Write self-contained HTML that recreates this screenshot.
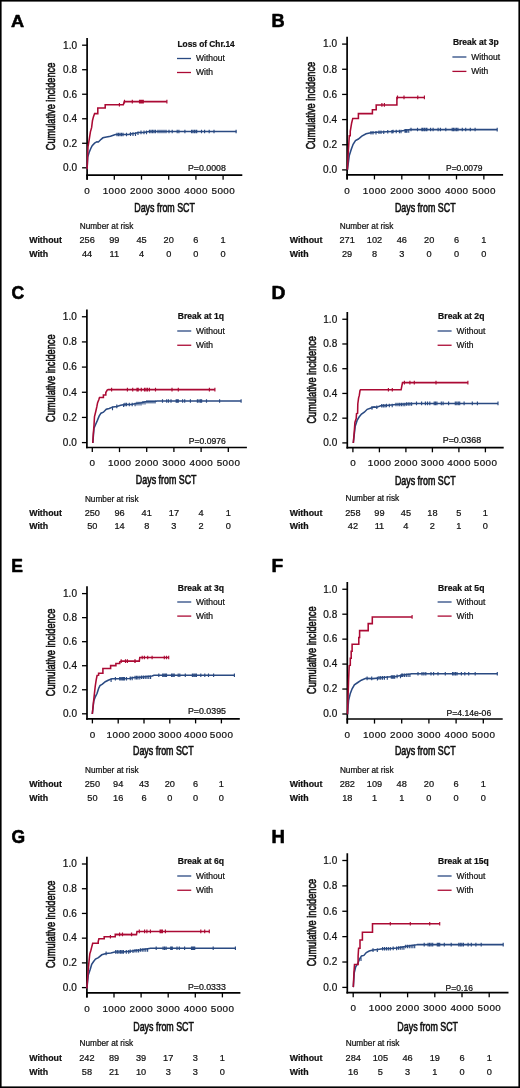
<!DOCTYPE html>
<html><head><meta charset="utf-8"><style>
html,body{margin:0;padding:0;background:#fff;}
svg{display:block;will-change:transform;}
text{font-family:"Liberation Sans", sans-serif;fill:#111;stroke:#111;stroke-width:0.22px;}
</style></head><body>
<svg width="520" height="1088" viewBox="0 0 520 1088">
<rect x="0" y="0" width="520" height="1088" fill="#fff"/>
<g><text transform="translate(11.05,27.3) scale(0.18185,0.17297)" font-size="100" font-weight="bold" style="fill:#000;stroke:#000;stroke-width:3.38px;stroke-linejoin:round">A</text><line x1="87.1" y1="37.9" x2="87.1" y2="179.7" stroke="#000" stroke-width="1.7"/><line x1="82.1" y1="167.8" x2="87.1" y2="167.8" stroke="#000" stroke-width="1.3"/><text x="77.2" y="171.1" font-size="10" letter-spacing="0.1" text-anchor="end">0.0</text><line x1="82.1" y1="143.28" x2="87.1" y2="143.28" stroke="#000" stroke-width="1.3"/><text x="77.2" y="146.58" font-size="10" letter-spacing="0.1" text-anchor="end">0.2</text><line x1="82.1" y1="118.76" x2="87.1" y2="118.76" stroke="#000" stroke-width="1.3"/><text x="77.2" y="122.06" font-size="10" letter-spacing="0.1" text-anchor="end">0.4</text><line x1="82.1" y1="94.24" x2="87.1" y2="94.24" stroke="#000" stroke-width="1.3"/><text x="77.2" y="97.54" font-size="10" letter-spacing="0.1" text-anchor="end">0.6</text><line x1="82.1" y1="69.72" x2="87.1" y2="69.72" stroke="#000" stroke-width="1.3"/><text x="77.2" y="73.02" font-size="10" letter-spacing="0.1" text-anchor="end">0.8</text><line x1="82.1" y1="45.2" x2="87.1" y2="45.2" stroke="#000" stroke-width="1.3"/><text x="77.2" y="48.5" font-size="10" letter-spacing="0.1" text-anchor="end">1.0</text><line x1="86.25" y1="175.1" x2="242.3" y2="175.1" stroke="#000" stroke-width="1.7"/><line x1="87.1" y1="175.1" x2="87.1" y2="179.7" stroke="#000" stroke-width="1.3"/><text x="87.3" y="193.8" font-size="9.9" letter-spacing="0.4" text-anchor="middle">0</text><line x1="114.3" y1="175.1" x2="114.3" y2="179.7" stroke="#000" stroke-width="1.3"/><text x="114.5" y="193.8" font-size="9.9" letter-spacing="0.4" text-anchor="middle">1000</text><line x1="141.5" y1="175.1" x2="141.5" y2="179.7" stroke="#000" stroke-width="1.3"/><text x="141.7" y="193.8" font-size="9.9" letter-spacing="0.4" text-anchor="middle">2000</text><line x1="168.7" y1="175.1" x2="168.7" y2="179.7" stroke="#000" stroke-width="1.3"/><text x="168.9" y="193.8" font-size="9.9" letter-spacing="0.4" text-anchor="middle">3000</text><line x1="195.9" y1="175.1" x2="195.9" y2="179.7" stroke="#000" stroke-width="1.3"/><text x="196.1" y="193.8" font-size="9.9" letter-spacing="0.4" text-anchor="middle">4000</text><line x1="223.1" y1="175.1" x2="223.1" y2="179.7" stroke="#000" stroke-width="1.3"/><text x="223.3" y="193.8" font-size="9.9" letter-spacing="0.4" text-anchor="middle">5000</text><text x="164.6" y="212" font-size="12" text-anchor="middle" textLength="60.7" lengthAdjust="spacingAndGlyphs" style="stroke-width:0.6px">Days from SCT</text><text transform="translate(54.7,106.5) rotate(-90)" x="0" y="0" font-size="12" text-anchor="middle" textLength="87.5" lengthAdjust="spacingAndGlyphs" style="stroke-width:0.6px">Cumulative incidence</text><text x="177.5" y="47" font-size="8.6" font-weight="bold" textLength="57.2" lengthAdjust="spacingAndGlyphs">Loss of Chr.14</text><line x1="177" y1="58.5" x2="191" y2="58.5" stroke="#2a4a82" stroke-width="1.3"/><text x="196" y="61.1" font-size="8.5">Without</text><line x1="177" y1="72.5" x2="191" y2="72.5" stroke="#ab0a34" stroke-width="1.3"/><text x="196" y="75.1" font-size="8.5">With</text><text x="225.8" y="170.6" font-size="8.2" text-anchor="end" textLength="37.8" lengthAdjust="spacingAndGlyphs">P=0.0008</text><text x="79.7" y="228.9" font-size="8.25">Number at risk</text><text x="29.2" y="242.7" font-size="8.8" font-weight="bold">Without</text><text x="29.2" y="257" font-size="8.8" font-weight="bold">With</text><text x="87.1" y="242.7" font-size="9.2" text-anchor="middle">256</text><text x="114.3" y="242.7" font-size="9.2" text-anchor="middle">99</text><text x="141.5" y="242.7" font-size="9.2" text-anchor="middle">45</text><text x="168.7" y="242.7" font-size="9.2" text-anchor="middle">20</text><text x="195.9" y="242.7" font-size="9.2" text-anchor="middle">6</text><text x="223.1" y="242.7" font-size="9.2" text-anchor="middle">1</text><text x="87.1" y="257" font-size="9.2" text-anchor="middle">44</text><text x="114.3" y="257" font-size="9.2" text-anchor="middle">11</text><text x="141.5" y="257" font-size="9.2" text-anchor="middle">4</text><text x="168.7" y="257" font-size="9.2" text-anchor="middle">0</text><text x="195.9" y="257" font-size="9.2" text-anchor="middle">0</text><text x="223.1" y="257" font-size="9.2" text-anchor="middle">0</text><path d="M87.1 169.3 L87.7 156.9 L89.2 152.2 L91 148 L92.2 145.6 L94.6 143.2 L96.9 141.7 L98.4 142 L101.1 139.3 L102.9 137.8 L105.2 137.2 L110.5 136.3 L115.4 134.5 L128.8 134.5 L130.2 134.1 L135.6 133.2 L138.3 132.4 L143.6 132.4 L149 131.5 L236.4 131.5" fill="none" stroke="#2a4a82" stroke-width="1.55" stroke-linejoin="miter"/><path d="M117 132.7v3.6 M118.5 132.7v3.6 M120 132.7v3.6 M121.5 132.7v3.6 M123 132.7v3.6 M126.5 132.7v3.6 M130.5 132.3v3.6 M133 132.3v3.6 M135.5 132.3v3.6 M138 131.4v3.6 M141 130.6v3.6 M144 130.6v3.6 M146.5 130.6v3.6 M149.5 129.7v3.6 M151 129.7v3.6 M152.5 129.7v3.6 M154 129.7v3.6 M155.5 129.7v3.6 M158 129.7v3.6 M160 129.7v3.6 M162 129.7v3.6 M164 129.7v3.6 M166 129.7v3.6 M169 129.7v3.6 M172.2 129.7v3.6 M177.2 129.7v3.6 M178.9 129.7v3.6 M184.9 129.7v3.6 M191.6 129.7v3.6 M193 129.7v3.6 M194.5 129.7v3.6 M196 129.7v3.6 M196.7 129.7v3.6 M201.5 129.7v3.6 M204.6 129.7v3.6 M209.2 129.7v3.6 M214 129.7v3.6 M236.1 129.7v3.6" stroke="#2a4a82" stroke-width="1.15"/><path d="M87.1 169.3 L88 146.8 L89.2 139.6 L90.4 131.9 L91.6 127.7 L92.5 120.5 L93.4 116.9 L94.6 113.6 L97.8 113.6 L97.8 107.9 L105.2 107.9 L105.2 104.8 L123.3 104.8 L124.3 101.6 L166.9 101.6" fill="none" stroke="#ab0a34" stroke-width="1.55" stroke-linejoin="miter"/><path d="M119.4 103v3.6 M124.5 99.8v3.6 M132.3 99.8v3.6 M139.5 99.8v3.6 M140.5 99.8v3.6 M141.5 99.8v3.6 M142.5 99.8v3.6 M143.3 99.8v3.6 M166.9 99.8v3.6" stroke="#ab0a34" stroke-width="1.15"/></g>
<g><text transform="translate(271.58,26.7) scale(0.18200,0.18023)" font-size="100" font-weight="bold" style="fill:#000;stroke:#000;stroke-width:3.31px;stroke-linejoin:round">B</text><line x1="347.1" y1="36.7" x2="347.1" y2="179.4" stroke="#000" stroke-width="1.7"/><line x1="342.1" y1="169.9" x2="347.1" y2="169.9" stroke="#000" stroke-width="1.3"/><text x="337.2" y="173.2" font-size="10" letter-spacing="0.1" text-anchor="end">0.0</text><line x1="342.1" y1="144.74" x2="347.1" y2="144.74" stroke="#000" stroke-width="1.3"/><text x="337.2" y="148.04" font-size="10" letter-spacing="0.1" text-anchor="end">0.2</text><line x1="342.1" y1="119.58" x2="347.1" y2="119.58" stroke="#000" stroke-width="1.3"/><text x="337.2" y="122.88" font-size="10" letter-spacing="0.1" text-anchor="end">0.4</text><line x1="342.1" y1="94.42" x2="347.1" y2="94.42" stroke="#000" stroke-width="1.3"/><text x="337.2" y="97.72" font-size="10" letter-spacing="0.1" text-anchor="end">0.6</text><line x1="342.1" y1="69.26" x2="347.1" y2="69.26" stroke="#000" stroke-width="1.3"/><text x="337.2" y="72.56" font-size="10" letter-spacing="0.1" text-anchor="end">0.8</text><line x1="342.1" y1="44.1" x2="347.1" y2="44.1" stroke="#000" stroke-width="1.3"/><text x="337.2" y="47.4" font-size="10" letter-spacing="0.1" text-anchor="end">1.0</text><line x1="346.25" y1="174.8" x2="503.1" y2="174.8" stroke="#000" stroke-width="1.7"/><line x1="347.1" y1="174.8" x2="347.1" y2="179.4" stroke="#000" stroke-width="1.3"/><text x="347.3" y="193.5" font-size="9.9" letter-spacing="0.4" text-anchor="middle">0</text><line x1="374.45" y1="174.8" x2="374.45" y2="179.4" stroke="#000" stroke-width="1.3"/><text x="374.65" y="193.5" font-size="9.9" letter-spacing="0.4" text-anchor="middle">1000</text><line x1="401.8" y1="174.8" x2="401.8" y2="179.4" stroke="#000" stroke-width="1.3"/><text x="402" y="193.5" font-size="9.9" letter-spacing="0.4" text-anchor="middle">2000</text><line x1="429.15" y1="174.8" x2="429.15" y2="179.4" stroke="#000" stroke-width="1.3"/><text x="429.35" y="193.5" font-size="9.9" letter-spacing="0.4" text-anchor="middle">3000</text><line x1="456.5" y1="174.8" x2="456.5" y2="179.4" stroke="#000" stroke-width="1.3"/><text x="456.7" y="193.5" font-size="9.9" letter-spacing="0.4" text-anchor="middle">4000</text><line x1="483.85" y1="174.8" x2="483.85" y2="179.4" stroke="#000" stroke-width="1.3"/><text x="484.05" y="193.5" font-size="9.9" letter-spacing="0.4" text-anchor="middle">5000</text><text x="425.25" y="212.3" font-size="12" text-anchor="middle" textLength="60.7" lengthAdjust="spacingAndGlyphs" style="stroke-width:0.6px">Days from SCT</text><text transform="translate(314.7,105.6) rotate(-90)" x="0" y="0" font-size="12" text-anchor="middle" textLength="87.5" lengthAdjust="spacingAndGlyphs" style="stroke-width:0.6px">Cumulative incidence</text><text x="452.9" y="45.4" font-size="8.6" font-weight="bold" textLength="45.9" lengthAdjust="spacingAndGlyphs">Break at 3p</text><line x1="452.4" y1="57" x2="466.4" y2="57" stroke="#2a4a82" stroke-width="1.3"/><text x="471.25" y="59.6" font-size="8.5">Without</text><line x1="452.4" y1="71.4" x2="466.4" y2="71.4" stroke="#ab0a34" stroke-width="1.3"/><text x="471.25" y="74" font-size="8.5">With</text><text x="482.5" y="171" font-size="8.2" text-anchor="end" textLength="36.5" lengthAdjust="spacingAndGlyphs">P=0.0079</text><text x="339.7" y="228.9" font-size="8.25">Number at risk</text><text x="289.7" y="242.7" font-size="8.8" font-weight="bold">Without</text><text x="289.7" y="257" font-size="8.8" font-weight="bold">With</text><text x="347.1" y="242.7" font-size="9.2" text-anchor="middle">271</text><text x="374.45" y="242.7" font-size="9.2" text-anchor="middle">102</text><text x="401.8" y="242.7" font-size="9.2" text-anchor="middle">46</text><text x="429.15" y="242.7" font-size="9.2" text-anchor="middle">20</text><text x="456.5" y="242.7" font-size="9.2" text-anchor="middle">6</text><text x="483.85" y="242.7" font-size="9.2" text-anchor="middle">1</text><text x="347.1" y="257" font-size="9.2" text-anchor="middle">29</text><text x="374.45" y="257" font-size="9.2" text-anchor="middle">8</text><text x="401.8" y="257" font-size="9.2" text-anchor="middle">3</text><text x="429.15" y="257" font-size="9.2" text-anchor="middle">0</text><text x="456.5" y="257" font-size="9.2" text-anchor="middle">0</text><text x="483.85" y="257" font-size="9.2" text-anchor="middle">0</text><path d="M347.4 169.8 L349.3 155.4 L351.2 149.6 L353.1 144.3 L355.5 140.5 L358.4 139 L361.8 136.2 L366.1 133.75 L370.9 132.8 L376.7 132.3 L386.3 131.8 L392.5 131.5 L401.25 130.9 L410 129.5 L497.2 129.6" fill="none" stroke="#2a4a82" stroke-width="1.55" stroke-linejoin="miter"/><path d="M371 131v3.6 M373 131v3.6 M376 131v3.6 M379 130.5v3.6 M381 130.5v3.6 M383.75 130.5v3.6 M387.75 130v3.6 M391.9 130v3.6 M393.1 129.7v3.6 M396.25 129.7v3.6 M399.4 129.7v3.6 M401 129.7v3.6 M405 129.1v3.6 M406 129.1v3.6 M407 129.1v3.6 M408.75 129.1v3.6 M411 127.7v3.6 M417.5 127.7v3.6 M421.9 127.7v3.6 M423 127.7v3.6 M424.5 127.7v3.6 M426 127.7v3.6 M426.9 127.7v3.6 M430.6 127.7v3.6 M433.1 127.7v3.6 M438.1 127.7v3.6 M440.4 127.7v3.6 M445.8 127.7v3.6 M452.2 127.7v3.6 M453.5 127.7v3.6 M455 127.7v3.6 M456.5 127.7v3.6 M457.9 127.7v3.6 M462.3 127.7v3.6 M465.7 127.7v3.6 M470.3 127.7v3.6 M475.1 127.7v3.6 M497.2 127.8v3.6" stroke="#2a4a82" stroke-width="1.15"/><path d="M347.4 169.8 L348.3 151.5 L349.3 135.7 L350.25 135.7 L350.25 131.3 L351.7 122.7 L352.8 118.4 L358.4 118.4 L358.4 113.6 L372.4 113.6 L372.4 109.7 L376.2 109.7 L376.2 104.9 L396.9 104.9 L396.9 97.4 L424.4 97.4" fill="none" stroke="#ab0a34" stroke-width="1.55" stroke-linejoin="miter"/><path d="M381.9 103.1v3.6 M384.4 103.1v3.6 M397.5 95.6v3.6 M404 95.6v3.6 M417.75 95.6v3.6 M424.4 95.6v3.6" stroke="#ab0a34" stroke-width="1.15"/></g>
<g><text transform="translate(11.38,299.12) scale(0.17589,0.18362)" font-size="100" font-weight="bold" style="fill:#000;stroke:#000;stroke-width:3.34px;stroke-linejoin:round">C</text><line x1="86.9" y1="309.5" x2="86.9" y2="448.35" stroke="#000" stroke-width="1.7"/><line x1="81.9" y1="442.6" x2="86.9" y2="442.6" stroke="#000" stroke-width="1.3"/><text x="77" y="445.9" font-size="10" letter-spacing="0.1" text-anchor="end">0.0</text><line x1="81.9" y1="417.43" x2="86.9" y2="417.43" stroke="#000" stroke-width="1.3"/><text x="77" y="420.73" font-size="10" letter-spacing="0.1" text-anchor="end">0.2</text><line x1="81.9" y1="392.26" x2="86.9" y2="392.26" stroke="#000" stroke-width="1.3"/><text x="77" y="395.56" font-size="10" letter-spacing="0.1" text-anchor="end">0.4</text><line x1="81.9" y1="367.09" x2="86.9" y2="367.09" stroke="#000" stroke-width="1.3"/><text x="77" y="370.39" font-size="10" letter-spacing="0.1" text-anchor="end">0.6</text><line x1="81.9" y1="341.92" x2="86.9" y2="341.92" stroke="#000" stroke-width="1.3"/><text x="77" y="345.22" font-size="10" letter-spacing="0.1" text-anchor="end">0.8</text><line x1="81.9" y1="316.75" x2="86.9" y2="316.75" stroke="#000" stroke-width="1.3"/><text x="77" y="320.05" font-size="10" letter-spacing="0.1" text-anchor="end">1.0</text><line x1="86.05" y1="447.5" x2="246.9" y2="447.5" stroke="#000" stroke-width="1.7"/><line x1="92.3" y1="447.5" x2="92.3" y2="452.1" stroke="#000" stroke-width="1.3"/><text x="92.5" y="466.2" font-size="9.9" letter-spacing="0.4" text-anchor="middle">0</text><line x1="119.5" y1="447.5" x2="119.5" y2="452.1" stroke="#000" stroke-width="1.3"/><text x="119.7" y="466.2" font-size="9.9" letter-spacing="0.4" text-anchor="middle">1000</text><line x1="146.7" y1="447.5" x2="146.7" y2="452.1" stroke="#000" stroke-width="1.3"/><text x="146.9" y="466.2" font-size="9.9" letter-spacing="0.4" text-anchor="middle">2000</text><line x1="173.9" y1="447.5" x2="173.9" y2="452.1" stroke="#000" stroke-width="1.3"/><text x="174.1" y="466.2" font-size="9.9" letter-spacing="0.4" text-anchor="middle">3000</text><line x1="201.1" y1="447.5" x2="201.1" y2="452.1" stroke="#000" stroke-width="1.3"/><text x="201.3" y="466.2" font-size="9.9" letter-spacing="0.4" text-anchor="middle">4000</text><line x1="228.3" y1="447.5" x2="228.3" y2="452.1" stroke="#000" stroke-width="1.3"/><text x="228.5" y="466.2" font-size="9.9" letter-spacing="0.4" text-anchor="middle">5000</text><text x="166.2" y="484.4" font-size="12" text-anchor="middle" textLength="60.7" lengthAdjust="spacingAndGlyphs" style="stroke-width:0.6px">Days from SCT</text><text transform="translate(55.3,378.2) rotate(-90)" x="0" y="0" font-size="12" text-anchor="middle" textLength="87.5" lengthAdjust="spacingAndGlyphs" style="stroke-width:0.6px">Cumulative incidence</text><text x="177.75" y="318.75" font-size="8.6" font-weight="bold" textLength="46.25" lengthAdjust="spacingAndGlyphs">Break at 1q</text><line x1="177.25" y1="331" x2="191.25" y2="331" stroke="#2a4a82" stroke-width="1.3"/><text x="196" y="333.6" font-size="8.5">Without</text><line x1="177.25" y1="345.25" x2="191.25" y2="345.25" stroke="#ab0a34" stroke-width="1.3"/><text x="196" y="347.85" font-size="8.5">With</text><text x="225.8" y="444.4" font-size="8.2" text-anchor="end" textLength="37" lengthAdjust="spacingAndGlyphs">P=0.0976</text><text x="84.9" y="501.6" font-size="8.25">Number at risk</text><text x="29.2" y="515.5" font-size="8.8" font-weight="bold">Without</text><text x="29.2" y="529.3" font-size="8.8" font-weight="bold">With</text><text x="92.3" y="515.5" font-size="9.2" text-anchor="middle">250</text><text x="119.5" y="515.5" font-size="9.2" text-anchor="middle">96</text><text x="146.7" y="515.5" font-size="9.2" text-anchor="middle">41</text><text x="173.9" y="515.5" font-size="9.2" text-anchor="middle">17</text><text x="201.1" y="515.5" font-size="9.2" text-anchor="middle">4</text><text x="228.3" y="515.5" font-size="9.2" text-anchor="middle">1</text><text x="92.3" y="529.3" font-size="9.2" text-anchor="middle">50</text><text x="119.5" y="529.3" font-size="9.2" text-anchor="middle">14</text><text x="146.7" y="529.3" font-size="9.2" text-anchor="middle">8</text><text x="173.9" y="529.3" font-size="9.2" text-anchor="middle">3</text><text x="201.1" y="529.3" font-size="9.2" text-anchor="middle">2</text><text x="228.3" y="529.3" font-size="9.2" text-anchor="middle">0</text><path d="M92.8 443 L94 428.1 L95.7 424.2 L97.4 420.4 L99.1 416.1 L101 413.2 L103.4 412.2 L106.3 409.3 L109.2 408.4 L113 406.9 L116.8 406.4 L120.7 405.2 L124.5 404.5 L131.3 404.5 L136.1 403.6 L141.5 402.8 L145.4 401.8 L155.4 401.4 L156.9 401 L241.1 401" fill="none" stroke="#2a4a82" stroke-width="1.55" stroke-linejoin="miter"/><path d="M112.5 406.6v3.6 M116.8 404.6v3.6 M123.6 403.4v3.6 M125 402.7v3.6 M126.5 402.7v3.6 M129.3 402.7v3.6 M132.2 402.7v3.6 M135.1 402.7v3.6 M137 401.8v3.6 M139 401.8v3.6 M141 401.8v3.6 M143 401v3.6 M145 401v3.6 M147 400v3.6 M149 400v3.6 M151 400v3.6 M153 400v3.6 M155 400v3.6 M162.5 399.2v3.6 M166.7 399.2v3.6 M168.5 399.2v3.6 M171 399.2v3.6 M176.2 399.2v3.6 M177.3 399.2v3.6 M178.3 399.2v3.6 M182.6 399.2v3.6 M184.7 399.2v3.6 M190.4 399.2v3.6 M197.4 399.2v3.6 M199 399.2v3.6 M200.5 399.2v3.6 M201.6 399.2v3.6 M206.5 399.2v3.6 M219.6 399.2v3.6 M241.1 399.2v3.6" stroke="#2a4a82" stroke-width="1.15"/><path d="M92.8 443 L93.3 433.8 L94 425.2 L94.5 416.5 L95.7 411.7 L96.8 406.9 L97.6 402.6 L98.8 399.7 L99.5 397.5 L103.4 397.5 L103.4 394.9 L105.8 394.9 L105.8 392.5 L107.2 390.1 L108.2 389.6 L214.9 389.6" fill="none" stroke="#ab0a34" stroke-width="1.55" stroke-linejoin="miter"/><path d="M111.6 387.8v3.6 M127.4 387.8v3.6 M132.7 387.8v3.6 M137 387.8v3.6 M138.2 387.8v3.6 M141.3 387.8v3.6 M144.5 387.8v3.6 M146 387.8v3.6 M147.5 387.8v3.6 M149.4 387.8v3.6 M155.5 387.8v3.6 M172 387.8v3.6 M178.3 387.8v3.6 M209.4 387.8v3.6 M214.9 387.8v3.6" stroke="#ab0a34" stroke-width="1.15"/></g>
<g><text transform="translate(271.51,299) scale(0.19240,0.18459)" font-size="100" font-weight="bold" style="fill:#000;stroke:#000;stroke-width:3.18px;stroke-linejoin:round">D</text><line x1="347.3" y1="312" x2="347.3" y2="448.55" stroke="#000" stroke-width="1.7"/><line x1="342.3" y1="442.9" x2="347.3" y2="442.9" stroke="#000" stroke-width="1.3"/><text x="337.4" y="446.2" font-size="10" letter-spacing="0.1" text-anchor="end">0.0</text><line x1="342.3" y1="418.17" x2="347.3" y2="418.17" stroke="#000" stroke-width="1.3"/><text x="337.4" y="421.47" font-size="10" letter-spacing="0.1" text-anchor="end">0.2</text><line x1="342.3" y1="393.44" x2="347.3" y2="393.44" stroke="#000" stroke-width="1.3"/><text x="337.4" y="396.74" font-size="10" letter-spacing="0.1" text-anchor="end">0.4</text><line x1="342.3" y1="368.71" x2="347.3" y2="368.71" stroke="#000" stroke-width="1.3"/><text x="337.4" y="372.01" font-size="10" letter-spacing="0.1" text-anchor="end">0.6</text><line x1="342.3" y1="343.98" x2="347.3" y2="343.98" stroke="#000" stroke-width="1.3"/><text x="337.4" y="347.28" font-size="10" letter-spacing="0.1" text-anchor="end">0.8</text><line x1="342.3" y1="319.25" x2="347.3" y2="319.25" stroke="#000" stroke-width="1.3"/><text x="337.4" y="322.55" font-size="10" letter-spacing="0.1" text-anchor="end">1.0</text><line x1="346.45" y1="447.7" x2="503.7" y2="447.7" stroke="#000" stroke-width="1.7"/><line x1="352.9" y1="447.7" x2="352.9" y2="452.3" stroke="#000" stroke-width="1.3"/><text x="353.1" y="466.4" font-size="9.9" letter-spacing="0.4" text-anchor="middle">0</text><line x1="379.4" y1="447.7" x2="379.4" y2="452.3" stroke="#000" stroke-width="1.3"/><text x="379.6" y="466.4" font-size="9.9" letter-spacing="0.4" text-anchor="middle">1000</text><line x1="405.9" y1="447.7" x2="405.9" y2="452.3" stroke="#000" stroke-width="1.3"/><text x="406.1" y="466.4" font-size="9.9" letter-spacing="0.4" text-anchor="middle">2000</text><line x1="432.4" y1="447.7" x2="432.4" y2="452.3" stroke="#000" stroke-width="1.3"/><text x="432.6" y="466.4" font-size="9.9" letter-spacing="0.4" text-anchor="middle">3000</text><line x1="458.9" y1="447.7" x2="458.9" y2="452.3" stroke="#000" stroke-width="1.3"/><text x="459.1" y="466.4" font-size="9.9" letter-spacing="0.4" text-anchor="middle">4000</text><line x1="485.4" y1="447.7" x2="485.4" y2="452.3" stroke="#000" stroke-width="1.3"/><text x="485.6" y="466.4" font-size="9.9" letter-spacing="0.4" text-anchor="middle">5000</text><text x="425.25" y="484.8" font-size="12" text-anchor="middle" textLength="60.7" lengthAdjust="spacingAndGlyphs" style="stroke-width:0.6px">Days from SCT</text><text transform="translate(315.5,379.8) rotate(-90)" x="0" y="0" font-size="12" text-anchor="middle" textLength="87.5" lengthAdjust="spacingAndGlyphs" style="stroke-width:0.6px">Cumulative incidence</text><text x="438.1" y="319" font-size="8.6" font-weight="bold" textLength="46.3" lengthAdjust="spacingAndGlyphs">Break at 2q</text><line x1="437.6" y1="331" x2="451.6" y2="331" stroke="#2a4a82" stroke-width="1.3"/><text x="456.5" y="333.6" font-size="8.5">Without</text><line x1="437.6" y1="345.25" x2="451.6" y2="345.25" stroke="#ab0a34" stroke-width="1.3"/><text x="456.5" y="347.85" font-size="8.5">With</text><text x="481.2" y="442.7" font-size="8.2" text-anchor="end" textLength="38.5" lengthAdjust="spacingAndGlyphs">P=0.0368</text><text x="345.5" y="501.2" font-size="8.25">Number at risk</text><text x="289.7" y="515.5" font-size="8.8" font-weight="bold">Without</text><text x="289.7" y="529.3" font-size="8.8" font-weight="bold">With</text><text x="352.9" y="515.5" font-size="9.2" text-anchor="middle">258</text><text x="379.4" y="515.5" font-size="9.2" text-anchor="middle">99</text><text x="405.9" y="515.5" font-size="9.2" text-anchor="middle">45</text><text x="432.4" y="515.5" font-size="9.2" text-anchor="middle">18</text><text x="458.9" y="515.5" font-size="9.2" text-anchor="middle">5</text><text x="485.4" y="515.5" font-size="9.2" text-anchor="middle">1</text><text x="352.9" y="529.3" font-size="9.2" text-anchor="middle">42</text><text x="379.4" y="529.3" font-size="9.2" text-anchor="middle">11</text><text x="405.9" y="529.3" font-size="9.2" text-anchor="middle">4</text><text x="432.4" y="529.3" font-size="9.2" text-anchor="middle">2</text><text x="458.9" y="529.3" font-size="9.2" text-anchor="middle">1</text><text x="485.4" y="529.3" font-size="9.2" text-anchor="middle">0</text><path d="M353.3 443 L355.2 426.2 L357.1 420.4 L359.1 417 L361.5 414.1 L364.3 412.2 L367.2 409.3 L371.1 407.9 L374 406.9 L376.8 407.2 L380.7 405.8 L386.5 405.5 L396 404.5 L405 404 L414.3 403.4 L498 403.4" fill="none" stroke="#2a4a82" stroke-width="1.55" stroke-linejoin="miter"/><path d="M372 406.1v3.6 M376.8 405.4v3.6 M381.7 404v3.6 M383.3 404v3.6 M385 404v3.6 M386.5 403.7v3.6 M389.3 403.7v3.6 M392.2 403.7v3.6 M396 402.7v3.6 M398 402.7v3.6 M399.7 402.7v3.6 M401.4 402.7v3.6 M403.1 402.7v3.6 M404.8 402.7v3.6 M406.5 402.2v3.6 M408.2 402.2v3.6 M409.9 402.2v3.6 M411.6 402.2v3.6 M416.5 401.6v3.6 M421.6 401.6v3.6 M425.4 401.6v3.6 M427.5 401.6v3.6 M429.8 401.6v3.6 M434.2 401.6v3.6 M435.5 401.6v3.6 M436.9 401.6v3.6 M441.3 401.6v3.6 M443.1 401.6v3.6 M448.6 401.6v3.6 M455.3 401.6v3.6 M456.8 401.6v3.6 M458.3 401.6v3.6 M459.7 401.6v3.6 M464.1 401.6v3.6 M472.3 401.6v3.6 M477.4 401.6v3.6 M498 401.6v3.6" stroke="#2a4a82" stroke-width="1.15"/><path d="M353.3 443 L354.25 431.9 L354.9 422.3 L356.2 418.5 L356.5 413.7 L357.6 413.2 L357.8 404 L358.6 397.8 L359.3 395.4 L360 390.6 L360.5 389.8 L401.1 389.8 L402.5 382.6 L467.9 382.6" fill="none" stroke="#ab0a34" stroke-width="1.55" stroke-linejoin="miter"/><path d="M388.4 388v3.6 M392.3 388v3.6 M404.4 380.8v3.6 M409.9 380.8v3.6 M414.3 380.8v3.6 M436 380.8v3.6 M467.9 380.8v3.6" stroke="#ab0a34" stroke-width="1.15"/></g>
<g><text transform="translate(11.33,571.6) scale(0.17469,0.18169)" font-size="100" font-weight="bold" style="fill:#000;stroke:#000;stroke-width:3.37px;stroke-linejoin:round">E</text><line x1="87" y1="586.25" x2="87" y2="719.65" stroke="#000" stroke-width="1.7"/><line x1="82" y1="713.8" x2="87" y2="713.8" stroke="#000" stroke-width="1.3"/><text x="77.1" y="717.1" font-size="10" letter-spacing="0.1" text-anchor="end">0.0</text><line x1="82" y1="689.76" x2="87" y2="689.76" stroke="#000" stroke-width="1.3"/><text x="77.1" y="693.06" font-size="10" letter-spacing="0.1" text-anchor="end">0.2</text><line x1="82" y1="665.72" x2="87" y2="665.72" stroke="#000" stroke-width="1.3"/><text x="77.1" y="669.02" font-size="10" letter-spacing="0.1" text-anchor="end">0.4</text><line x1="82" y1="641.68" x2="87" y2="641.68" stroke="#000" stroke-width="1.3"/><text x="77.1" y="644.98" font-size="10" letter-spacing="0.1" text-anchor="end">0.6</text><line x1="82" y1="617.64" x2="87" y2="617.64" stroke="#000" stroke-width="1.3"/><text x="77.1" y="620.94" font-size="10" letter-spacing="0.1" text-anchor="end">0.8</text><line x1="82" y1="593.6" x2="87" y2="593.6" stroke="#000" stroke-width="1.3"/><text x="77.1" y="596.9" font-size="10" letter-spacing="0.1" text-anchor="end">1.0</text><line x1="86.15" y1="718.8" x2="239.8" y2="718.8" stroke="#000" stroke-width="1.7"/><line x1="92.4" y1="718.8" x2="92.4" y2="723.4" stroke="#000" stroke-width="1.3"/><text x="92.6" y="737.5" font-size="9.9" letter-spacing="0.4" text-anchor="middle">0</text><line x1="118.2" y1="718.8" x2="118.2" y2="723.4" stroke="#000" stroke-width="1.3"/><text x="118.4" y="737.5" font-size="9.9" letter-spacing="0.4" text-anchor="middle">1000</text><line x1="144" y1="718.8" x2="144" y2="723.4" stroke="#000" stroke-width="1.3"/><text x="144.2" y="737.5" font-size="9.9" letter-spacing="0.4" text-anchor="middle">2000</text><line x1="169.8" y1="718.8" x2="169.8" y2="723.4" stroke="#000" stroke-width="1.3"/><text x="170" y="737.5" font-size="9.9" letter-spacing="0.4" text-anchor="middle">3000</text><line x1="195.6" y1="718.8" x2="195.6" y2="723.4" stroke="#000" stroke-width="1.3"/><text x="195.8" y="737.5" font-size="9.9" letter-spacing="0.4" text-anchor="middle">4000</text><line x1="221.4" y1="718.8" x2="221.4" y2="723.4" stroke="#000" stroke-width="1.3"/><text x="221.6" y="737.5" font-size="9.9" letter-spacing="0.4" text-anchor="middle">5000</text><text x="163.35" y="755.4" font-size="12" text-anchor="middle" textLength="60.7" lengthAdjust="spacingAndGlyphs" style="stroke-width:0.6px">Days from SCT</text><text transform="translate(55.3,652.4) rotate(-90)" x="0" y="0" font-size="12" text-anchor="middle" textLength="87.5" lengthAdjust="spacingAndGlyphs" style="stroke-width:0.6px">Cumulative incidence</text><text x="177.75" y="590.5" font-size="8.6" font-weight="bold" textLength="46.25" lengthAdjust="spacingAndGlyphs">Break at 3q</text><line x1="177.25" y1="602" x2="191.25" y2="602" stroke="#2a4a82" stroke-width="1.3"/><text x="196" y="604.6" font-size="8.5">Without</text><line x1="177.25" y1="616.1" x2="191.25" y2="616.1" stroke="#ab0a34" stroke-width="1.3"/><text x="196" y="618.7" font-size="8.5">With</text><text x="226" y="714" font-size="8.2" text-anchor="end" textLength="38.1" lengthAdjust="spacingAndGlyphs">P=0.0395</text><text x="85" y="772.7" font-size="8.25">Number at risk</text><text x="29.2" y="787" font-size="8.8" font-weight="bold">Without</text><text x="29.2" y="800.9" font-size="8.8" font-weight="bold">With</text><text x="92.4" y="787" font-size="9.2" text-anchor="middle">250</text><text x="118.2" y="787" font-size="9.2" text-anchor="middle">94</text><text x="144" y="787" font-size="9.2" text-anchor="middle">43</text><text x="169.8" y="787" font-size="9.2" text-anchor="middle">20</text><text x="195.6" y="787" font-size="9.2" text-anchor="middle">6</text><text x="221.4" y="787" font-size="9.2" text-anchor="middle">1</text><text x="92.4" y="800.9" font-size="9.2" text-anchor="middle">50</text><text x="118.2" y="800.9" font-size="9.2" text-anchor="middle">16</text><text x="144" y="800.9" font-size="9.2" text-anchor="middle">6</text><text x="169.8" y="800.9" font-size="9.2" text-anchor="middle">0</text><text x="195.6" y="800.9" font-size="9.2" text-anchor="middle">0</text><text x="221.4" y="800.9" font-size="9.2" text-anchor="middle">0</text><path d="M92.3 714 L93.8 701 L95.2 697.1 L97.1 693.3 L98.6 688.5 L100 685.6 L102.4 684.1 L105.3 681.7 L108.2 680.3 L112 678.8 L116.8 678.7 L129.3 678.4 L134.2 677.6 L140 677.3 L152.1 676 L154 675.3 L234.4 675.3" fill="none" stroke="#2a4a82" stroke-width="1.55" stroke-linejoin="miter"/><path d="M111.1 678.5v3.6 M115.4 677v3.6 M119.7 676.9v3.6 M121 676.9v3.6 M122.3 676.9v3.6 M123.5 676.9v3.6 M124.5 676.9v3.6 M126.5 676.9v3.6 M130.3 676.6v3.6 M132.2 676.6v3.6 M135.1 675.8v3.6 M136.6 675.8v3.6 M138 675.8v3.6 M139.8 675.8v3.6 M141.6 675.5v3.6 M143.4 675.5v3.6 M145.2 675.5v3.6 M147 675.5v3.6 M148.8 675.5v3.6 M150.6 675.5v3.6 M158.8 673.5v3.6 M162.7 673.5v3.6 M164 673.5v3.6 M165.3 673.5v3.6 M166.5 673.5v3.6 M171.6 673.5v3.6 M172.9 673.5v3.6 M174.2 673.5v3.6 M178.2 673.5v3.6 M179.8 673.5v3.6 M185.3 673.5v3.6 M192.4 673.5v3.6 M193.8 673.5v3.6 M195.1 673.5v3.6 M196.4 673.5v3.6 M200.8 673.5v3.6 M204.8 673.5v3.6 M208.5 673.5v3.6 M213.6 673.5v3.6 M234.4 673.5v3.6" stroke="#2a4a82" stroke-width="1.15"/><path d="M92.3 714 L93.3 703.8 L94.25 695.2 L95.2 686.5 L96.2 679.8 L97.1 675.5 L98.6 675.2 L98.6 673.3 L102.9 673.3 L102.9 668.5 L110.6 668.5 L110.6 665.6 L115.9 665.6 L115.9 663.5 L119.7 663.5 L119.7 662 L121.2 661.1 L139.3 661.1 L139.8 657.5 L168.7 657.5" fill="none" stroke="#ab0a34" stroke-width="1.55" stroke-linejoin="miter"/><path d="M121.2 659.3v3.6 M125.5 659.3v3.6 M127.4 659.3v3.6 M135.1 659.3v3.6 M134.9 659.3v3.6 M142.2 655.7v3.6 M144.4 655.7v3.6 M147.7 655.7v3.6 M152.1 655.7v3.6 M164.3 655.7v3.6 M166.5 655.7v3.6 M168.7 655.7v3.6" stroke="#ab0a34" stroke-width="1.15"/></g>
<g><text transform="translate(271.52,571.6) scale(0.19121,0.18169)" font-size="100" font-weight="bold" style="fill:#000;stroke:#000;stroke-width:3.22px;stroke-linejoin:round">F</text><line x1="347.3" y1="582" x2="347.3" y2="723.6" stroke="#000" stroke-width="1.7"/><line x1="342.3" y1="714" x2="347.3" y2="714" stroke="#000" stroke-width="1.3"/><text x="337.4" y="717.3" font-size="10" letter-spacing="0.1" text-anchor="end">0.0</text><line x1="342.3" y1="689.05" x2="347.3" y2="689.05" stroke="#000" stroke-width="1.3"/><text x="337.4" y="692.35" font-size="10" letter-spacing="0.1" text-anchor="end">0.2</text><line x1="342.3" y1="664.1" x2="347.3" y2="664.1" stroke="#000" stroke-width="1.3"/><text x="337.4" y="667.4" font-size="10" letter-spacing="0.1" text-anchor="end">0.4</text><line x1="342.3" y1="639.15" x2="347.3" y2="639.15" stroke="#000" stroke-width="1.3"/><text x="337.4" y="642.45" font-size="10" letter-spacing="0.1" text-anchor="end">0.6</text><line x1="342.3" y1="614.2" x2="347.3" y2="614.2" stroke="#000" stroke-width="1.3"/><text x="337.4" y="617.5" font-size="10" letter-spacing="0.1" text-anchor="end">0.8</text><line x1="342.3" y1="589.25" x2="347.3" y2="589.25" stroke="#000" stroke-width="1.3"/><text x="337.4" y="592.55" font-size="10" letter-spacing="0.1" text-anchor="end">1.0</text><line x1="346.45" y1="719" x2="502.7" y2="719" stroke="#000" stroke-width="1.7"/><line x1="347.3" y1="719" x2="347.3" y2="723.6" stroke="#000" stroke-width="1.3"/><text x="347.5" y="737.7" font-size="9.9" letter-spacing="0.4" text-anchor="middle">0</text><line x1="374.5" y1="719" x2="374.5" y2="723.6" stroke="#000" stroke-width="1.3"/><text x="374.7" y="737.7" font-size="9.9" letter-spacing="0.4" text-anchor="middle">1000</text><line x1="401.7" y1="719" x2="401.7" y2="723.6" stroke="#000" stroke-width="1.3"/><text x="401.9" y="737.7" font-size="9.9" letter-spacing="0.4" text-anchor="middle">2000</text><line x1="428.9" y1="719" x2="428.9" y2="723.6" stroke="#000" stroke-width="1.3"/><text x="429.1" y="737.7" font-size="9.9" letter-spacing="0.4" text-anchor="middle">3000</text><line x1="456.1" y1="719" x2="456.1" y2="723.6" stroke="#000" stroke-width="1.3"/><text x="456.3" y="737.7" font-size="9.9" letter-spacing="0.4" text-anchor="middle">4000</text><line x1="483.3" y1="719" x2="483.3" y2="723.6" stroke="#000" stroke-width="1.3"/><text x="483.5" y="737.7" font-size="9.9" letter-spacing="0.4" text-anchor="middle">5000</text><text x="425.25" y="755.4" font-size="12" text-anchor="middle" textLength="60.7" lengthAdjust="spacingAndGlyphs" style="stroke-width:0.6px">Days from SCT</text><text transform="translate(315.5,650.2) rotate(-90)" x="0" y="0" font-size="12" text-anchor="middle" textLength="87.5" lengthAdjust="spacingAndGlyphs" style="stroke-width:0.6px">Cumulative incidence</text><text x="438.1" y="590.5" font-size="8.6" font-weight="bold" textLength="46.3" lengthAdjust="spacingAndGlyphs">Break at 5q</text><line x1="437.6" y1="602" x2="451.6" y2="602" stroke="#2a4a82" stroke-width="1.3"/><text x="456.5" y="604.6" font-size="8.5">Without</text><line x1="437.6" y1="616.1" x2="451.6" y2="616.1" stroke="#ab0a34" stroke-width="1.3"/><text x="456.5" y="618.7" font-size="8.5">With</text><text x="491.2" y="716" font-size="8.2" text-anchor="end" textLength="44.7" lengthAdjust="spacingAndGlyphs">P=4.14e-06</text><text x="339.9" y="772.7" font-size="8.25">Number at risk</text><text x="289.7" y="787" font-size="8.8" font-weight="bold">Without</text><text x="289.7" y="800.9" font-size="8.8" font-weight="bold">With</text><text x="347.3" y="787" font-size="9.2" text-anchor="middle">282</text><text x="374.5" y="787" font-size="9.2" text-anchor="middle">109</text><text x="401.7" y="787" font-size="9.2" text-anchor="middle">48</text><text x="428.9" y="787" font-size="9.2" text-anchor="middle">20</text><text x="456.1" y="787" font-size="9.2" text-anchor="middle">6</text><text x="483.3" y="787" font-size="9.2" text-anchor="middle">1</text><text x="347.3" y="800.9" font-size="9.2" text-anchor="middle">18</text><text x="374.5" y="800.9" font-size="9.2" text-anchor="middle">1</text><text x="401.7" y="800.9" font-size="9.2" text-anchor="middle">1</text><text x="428.9" y="800.9" font-size="9.2" text-anchor="middle">0</text><text x="456.1" y="800.9" font-size="9.2" text-anchor="middle">0</text><text x="483.3" y="800.9" font-size="9.2" text-anchor="middle">0</text><path d="M347.5 714.2 L348.6 700.3 L350.3 693.4 L352.1 688.8 L354.4 684.8 L357.8 682.5 L361.3 680.2 L365.9 678.4 L372.8 678.6 L378.6 677.9 L387.8 677 L395.9 676.4 L401.7 675.2 L410.3 674 L411.5 673.8 L497.3 673.8" fill="none" stroke="#2a4a82" stroke-width="1.55" stroke-linejoin="miter"/><path d="M367.1 676.6v3.6 M371.7 676.6v3.6 M377.4 676.8v3.6 M379 676.1v3.6 M380.7 676.1v3.6 M382.5 676.1v3.6 M384.4 676.1v3.6 M387.3 676.1v3.6 M391.3 675.2v3.6 M392.5 675.2v3.6 M393.7 675.2v3.6 M394.7 675.2v3.6 M397.1 674.6v3.6 M400.5 674.6v3.6 M401.7 673.4v3.6 M402.8 673.4v3.6 M404.5 673.4v3.6 M406.3 673.4v3.6 M408.1 673.4v3.6 M409.9 673.4v3.6 M418 672v3.6 M422 672v3.6 M423.9 672v3.6 M425.8 672v3.6 M431 672v3.6 M433.6 672v3.6 M438 672v3.6 M445.3 672v3.6 M452.6 672v3.6 M454 672v3.6 M455.5 672v3.6 M457 672v3.6 M461.4 672v3.6 M464.8 672v3.6 M468.7 672v3.6 M475.2 672v3.6 M497.3 672v3.6" stroke="#2a4a82" stroke-width="1.15"/><path d="M347.5 714.2 L348.6 679.6 L349.2 665.7 L350.3 665.2 L350.3 658.2 L351.2 658.2 L351.2 651.3 L352.1 651.3 L352.1 644.2 L358.8 644.2 L358.8 637.5 L359.6 637.5 L359.6 630.6 L368.2 630.6 L368.2 623.6 L372.3 623.6 L372.3 616.9 L412.1 616.9" fill="none" stroke="#ab0a34" stroke-width="1.55" stroke-linejoin="miter"/><path d="M412.1 615.1v3.6" stroke="#ab0a34" stroke-width="1.15"/></g>
<g><text transform="translate(11.48,843.11) scale(0.17487,0.18927)" font-size="100" font-weight="bold" style="fill:#000;stroke:#000;stroke-width:3.3px;stroke-linejoin:round">G</text><line x1="86.9" y1="856.75" x2="86.9" y2="997.4" stroke="#000" stroke-width="1.7"/><line x1="81.9" y1="987.6" x2="86.9" y2="987.6" stroke="#000" stroke-width="1.3"/><text x="77" y="990.9" font-size="10" letter-spacing="0.1" text-anchor="end">0.0</text><line x1="81.9" y1="962.88" x2="86.9" y2="962.88" stroke="#000" stroke-width="1.3"/><text x="77" y="966.18" font-size="10" letter-spacing="0.1" text-anchor="end">0.2</text><line x1="81.9" y1="938.16" x2="86.9" y2="938.16" stroke="#000" stroke-width="1.3"/><text x="77" y="941.46" font-size="10" letter-spacing="0.1" text-anchor="end">0.4</text><line x1="81.9" y1="913.44" x2="86.9" y2="913.44" stroke="#000" stroke-width="1.3"/><text x="77" y="916.74" font-size="10" letter-spacing="0.1" text-anchor="end">0.6</text><line x1="81.9" y1="888.72" x2="86.9" y2="888.72" stroke="#000" stroke-width="1.3"/><text x="77" y="892.02" font-size="10" letter-spacing="0.1" text-anchor="end">0.8</text><line x1="81.9" y1="864" x2="86.9" y2="864" stroke="#000" stroke-width="1.3"/><text x="77" y="867.3" font-size="10" letter-spacing="0.1" text-anchor="end">1.0</text><line x1="86.05" y1="992.8" x2="240.4" y2="992.8" stroke="#000" stroke-width="1.7"/><line x1="86.9" y1="992.8" x2="86.9" y2="997.4" stroke="#000" stroke-width="1.3"/><text x="87.1" y="1011.5" font-size="9.9" letter-spacing="0.4" text-anchor="middle">0</text><line x1="114" y1="992.8" x2="114" y2="997.4" stroke="#000" stroke-width="1.3"/><text x="114.2" y="1011.5" font-size="9.9" letter-spacing="0.4" text-anchor="middle">1000</text><line x1="141.1" y1="992.8" x2="141.1" y2="997.4" stroke="#000" stroke-width="1.3"/><text x="141.3" y="1011.5" font-size="9.9" letter-spacing="0.4" text-anchor="middle">2000</text><line x1="168.2" y1="992.8" x2="168.2" y2="997.4" stroke="#000" stroke-width="1.3"/><text x="168.4" y="1011.5" font-size="9.9" letter-spacing="0.4" text-anchor="middle">3000</text><line x1="195.3" y1="992.8" x2="195.3" y2="997.4" stroke="#000" stroke-width="1.3"/><text x="195.5" y="1011.5" font-size="9.9" letter-spacing="0.4" text-anchor="middle">4000</text><line x1="222.4" y1="992.8" x2="222.4" y2="997.4" stroke="#000" stroke-width="1.3"/><text x="222.6" y="1011.5" font-size="9.9" letter-spacing="0.4" text-anchor="middle">5000</text><text x="163.6" y="1030.8" font-size="12" text-anchor="middle" textLength="60.7" lengthAdjust="spacingAndGlyphs" style="stroke-width:0.6px">Days from SCT</text><text transform="translate(55.3,924.3) rotate(-90)" x="0" y="0" font-size="12" text-anchor="middle" textLength="87.5" lengthAdjust="spacingAndGlyphs" style="stroke-width:0.6px">Cumulative incidence</text><text x="177.75" y="864" font-size="8.6" font-weight="bold" textLength="46.25" lengthAdjust="spacingAndGlyphs">Break at 6q</text><line x1="177.25" y1="876" x2="191.25" y2="876" stroke="#2a4a82" stroke-width="1.3"/><text x="196" y="878.6" font-size="8.5">Without</text><line x1="177.25" y1="890.25" x2="191.25" y2="890.25" stroke="#ab0a34" stroke-width="1.3"/><text x="196" y="892.85" font-size="8.5">With</text><text x="225.8" y="989.8" font-size="8.2" text-anchor="end" textLength="37.9" lengthAdjust="spacingAndGlyphs">P=0.0333</text><text x="79.5" y="1046.2" font-size="8.25">Number at risk</text><text x="29.2" y="1060.7" font-size="8.8" font-weight="bold">Without</text><text x="29.2" y="1075" font-size="8.8" font-weight="bold">With</text><text x="86.9" y="1060.7" font-size="9.2" text-anchor="middle">242</text><text x="114" y="1060.7" font-size="9.2" text-anchor="middle">89</text><text x="141.1" y="1060.7" font-size="9.2" text-anchor="middle">39</text><text x="168.2" y="1060.7" font-size="9.2" text-anchor="middle">17</text><text x="195.3" y="1060.7" font-size="9.2" text-anchor="middle">3</text><text x="222.4" y="1060.7" font-size="9.2" text-anchor="middle">1</text><text x="86.9" y="1075" font-size="9.2" text-anchor="middle">58</text><text x="114" y="1075" font-size="9.2" text-anchor="middle">21</text><text x="141.1" y="1075" font-size="9.2" text-anchor="middle">10</text><text x="168.2" y="1075" font-size="9.2" text-anchor="middle">3</text><text x="195.3" y="1075" font-size="9.2" text-anchor="middle">3</text><text x="222.4" y="1075" font-size="9.2" text-anchor="middle">0</text><path d="M86.9 988.5 L88.3 975 L90.25 969.2 L91.7 964.4 L93.6 961.5 L95.5 959.1 L98.4 957.7 L101.8 954.8 L106.1 953.4 L110.9 952.9 L114.8 951.9 L122.5 951.9 L130.2 951.25 L134 950.8 L140 950 L149.2 948.4 L150.5 948.2 L235.4 948.2" fill="none" stroke="#2a4a82" stroke-width="1.55" stroke-linejoin="miter"/><path d="M106.1 951.6v3.6 M115.7 950.1v3.6 M117.3 950.1v3.6 M119 950.1v3.6 M120.6 950.1v3.6 M122 950.1v3.6 M123.4 950.1v3.6 M126.3 950.1v3.6 M128.7 950.1v3.6 M130.2 949.45v3.6 M133 949.45v3.6 M135 949v3.6 M136.8 949v3.6 M138.6 949v3.6 M140.4 948.2v3.6 M142.2 948.2v3.6 M144 948.2v3.6 M145.8 948.2v3.6 M147.6 948.2v3.6 M156.2 946.4v3.6 M163.1 946.4v3.6 M164.6 946.4v3.6 M166.1 946.4v3.6 M170.7 946.4v3.6 M171.5 946.4v3.6 M172.3 946.4v3.6 M177 946.4v3.6 M179.3 946.4v3.6 M184.6 946.4v3.6 M191.5 946.4v3.6 M192.6 946.4v3.6 M193.7 946.4v3.6 M194.7 946.4v3.6 M213.2 946.4v3.6 M235.4 946.4v3.6" stroke="#2a4a82" stroke-width="1.15"/><path d="M86.9 988.5 L87.8 975 L88.8 963.5 L89.8 953.8 L90.7 951 L91.7 947.1 L92.7 943.3 L98.2 943.3 L98.2 941.5 L98.9 938.7 L104.2 938.7 L104.2 936.7 L115.25 936.7 L115.25 934.4 L136.5 934.6 L137 931.4 L209.3 931.4" fill="none" stroke="#ab0a34" stroke-width="1.55" stroke-linejoin="miter"/><path d="M110.4 934.9v3.6 M119.6 932.6v3.6 M122.5 932.6v3.6 M131.6 932.6v3.6 M131.5 932.6v3.6 M139.3 929.6v3.6 M144.6 929.6v3.6 M146.9 929.6v3.6 M150.4 929.6v3.6 M160.1 929.6v3.6 M161.2 929.6v3.6 M162.4 929.6v3.6 M165.4 929.6v3.6 M200.8 929.6v3.6 M204.7 929.6v3.6 M209.3 929.6v3.6" stroke="#ab0a34" stroke-width="1.15"/></g>
<g><text transform="translate(271.56,842.6) scale(0.18541,0.18023)" font-size="100" font-weight="bold" style="fill:#000;stroke:#000;stroke-width:3.28px;stroke-linejoin:round">H</text><line x1="347.3" y1="853.25" x2="347.3" y2="993.55" stroke="#000" stroke-width="1.7"/><line x1="342.3" y1="987.4" x2="347.3" y2="987.4" stroke="#000" stroke-width="1.3"/><text x="337.4" y="990.7" font-size="10" letter-spacing="0.1" text-anchor="end">0.0</text><line x1="342.3" y1="962.02" x2="347.3" y2="962.02" stroke="#000" stroke-width="1.3"/><text x="337.4" y="965.32" font-size="10" letter-spacing="0.1" text-anchor="end">0.2</text><line x1="342.3" y1="936.64" x2="347.3" y2="936.64" stroke="#000" stroke-width="1.3"/><text x="337.4" y="939.94" font-size="10" letter-spacing="0.1" text-anchor="end">0.4</text><line x1="342.3" y1="911.26" x2="347.3" y2="911.26" stroke="#000" stroke-width="1.3"/><text x="337.4" y="914.56" font-size="10" letter-spacing="0.1" text-anchor="end">0.6</text><line x1="342.3" y1="885.88" x2="347.3" y2="885.88" stroke="#000" stroke-width="1.3"/><text x="337.4" y="889.18" font-size="10" letter-spacing="0.1" text-anchor="end">0.8</text><line x1="342.3" y1="860.5" x2="347.3" y2="860.5" stroke="#000" stroke-width="1.3"/><text x="337.4" y="863.8" font-size="10" letter-spacing="0.1" text-anchor="end">1.0</text><line x1="346.45" y1="992.7" x2="508.5" y2="992.7" stroke="#000" stroke-width="1.7"/><line x1="353.2" y1="992.7" x2="353.2" y2="997.3" stroke="#000" stroke-width="1.3"/><text x="353.4" y="1011.4" font-size="9.9" letter-spacing="0.4" text-anchor="middle">0</text><line x1="380.4" y1="992.7" x2="380.4" y2="997.3" stroke="#000" stroke-width="1.3"/><text x="380.6" y="1011.4" font-size="9.9" letter-spacing="0.4" text-anchor="middle">1000</text><line x1="407.6" y1="992.7" x2="407.6" y2="997.3" stroke="#000" stroke-width="1.3"/><text x="407.8" y="1011.4" font-size="9.9" letter-spacing="0.4" text-anchor="middle">2000</text><line x1="434.8" y1="992.7" x2="434.8" y2="997.3" stroke="#000" stroke-width="1.3"/><text x="435" y="1011.4" font-size="9.9" letter-spacing="0.4" text-anchor="middle">3000</text><line x1="462" y1="992.7" x2="462" y2="997.3" stroke="#000" stroke-width="1.3"/><text x="462.2" y="1011.4" font-size="9.9" letter-spacing="0.4" text-anchor="middle">4000</text><line x1="489.2" y1="992.7" x2="489.2" y2="997.3" stroke="#000" stroke-width="1.3"/><text x="489.4" y="1011.4" font-size="9.9" letter-spacing="0.4" text-anchor="middle">5000</text><text x="427.7" y="1030.8" font-size="12" text-anchor="middle" textLength="60.7" lengthAdjust="spacingAndGlyphs" style="stroke-width:0.6px">Days from SCT</text><text transform="translate(315.5,922.6) rotate(-90)" x="0" y="0" font-size="12" text-anchor="middle" textLength="87.5" lengthAdjust="spacingAndGlyphs" style="stroke-width:0.6px">Cumulative incidence</text><text x="438.1" y="864" font-size="8.6" font-weight="bold" textLength="50.65" lengthAdjust="spacingAndGlyphs">Break at 15q</text><line x1="437.6" y1="876" x2="451.6" y2="876" stroke="#2a4a82" stroke-width="1.3"/><text x="456.5" y="878.6" font-size="8.5">Without</text><line x1="437.6" y1="890.25" x2="451.6" y2="890.25" stroke="#ab0a34" stroke-width="1.3"/><text x="456.5" y="892.85" font-size="8.5">With</text><text x="472.9" y="990.8" font-size="8.2" text-anchor="end" textLength="27.3" lengthAdjust="spacingAndGlyphs">P=0.16</text><text x="345.8" y="1046" font-size="8.25">Number at risk</text><text x="289.7" y="1060.7" font-size="8.8" font-weight="bold">Without</text><text x="289.7" y="1075" font-size="8.8" font-weight="bold">With</text><text x="353.2" y="1060.7" font-size="9.2" text-anchor="middle">284</text><text x="380.4" y="1060.7" font-size="9.2" text-anchor="middle">105</text><text x="407.6" y="1060.7" font-size="9.2" text-anchor="middle">46</text><text x="434.8" y="1060.7" font-size="9.2" text-anchor="middle">19</text><text x="462" y="1060.7" font-size="9.2" text-anchor="middle">6</text><text x="489.2" y="1060.7" font-size="9.2" text-anchor="middle">1</text><text x="353.2" y="1075" font-size="9.2" text-anchor="middle">16</text><text x="380.4" y="1075" font-size="9.2" text-anchor="middle">5</text><text x="407.6" y="1075" font-size="9.2" text-anchor="middle">3</text><text x="434.8" y="1075" font-size="9.2" text-anchor="middle">1</text><text x="462" y="1075" font-size="9.2" text-anchor="middle">0</text><text x="489.2" y="1075" font-size="9.2" text-anchor="middle">0</text><path d="M353.3 987.1 L354.25 972.7 L355.7 966.9 L357.6 964 L359.5 959.2 L361.5 955.9 L363.9 955.4 L366.3 952.5 L369.2 951.1 L373 950.1 L377.8 949.6 L382.6 948.7 L391.3 948.4 L397 948 L405 946.5 L416.6 944.8 L417.5 944.6 L503.2 944.6" fill="none" stroke="#2a4a82" stroke-width="1.55" stroke-linejoin="miter"/><path d="M361 957.4v3.6 M373 948.3v3.6 M377.3 948.3v3.6 M382.6 946.9v3.6 M384.5 946.9v3.6 M386.4 946.9v3.6 M388.3 946.9v3.6 M390.3 946.9v3.6 M393.2 946.6v3.6 M396.6 946.6v3.6 M398.5 946.2v3.6 M400.3 946.2v3.6 M402.1 946.2v3.6 M403.9 946.2v3.6 M405.7 944.7v3.6 M407.5 944.7v3.6 M409.3 944.7v3.6 M411.1 944.7v3.6 M412.9 944.7v3.6 M414.7 944.7v3.6 M424.2 942.8v3.6 M428.1 942.8v3.6 M429.6 942.8v3.6 M431.1 942.8v3.6 M432.7 942.8v3.6 M437.3 942.8v3.6 M438.5 942.8v3.6 M439.7 942.8v3.6 M444.3 942.8v3.6 M451.2 942.8v3.6 M458.8 942.8v3.6 M460.3 942.8v3.6 M461.8 942.8v3.6 M463.4 942.8v3.6 M468.1 942.8v3.6 M471.3 942.8v3.6 M475.9 942.8v3.6 M481.2 942.8v3.6 M503.2 942.8v3.6" stroke="#2a4a82" stroke-width="1.15"/><path d="M353.3 987.1 L354 971.7 L354.5 964.5 L358.1 964.5 L358.1 956.3 L358.6 948.2 L360 948.2 L360 940 L362.4 940 L362.4 932.3 L372.5 932.3 L372.5 923.8 L439.7 923.8" fill="none" stroke="#ab0a34" stroke-width="1.55" stroke-linejoin="miter"/><path d="M390.3 922v3.6 M410.3 922v3.6 M429.7 922v3.6 M439.7 922v3.6" stroke="#ab0a34" stroke-width="1.15"/></g>
<rect x="0.8" y="0.8" width="518.4" height="1086.4" fill="none" stroke="#000" stroke-width="1.6"/>
</svg>
</body></html>
